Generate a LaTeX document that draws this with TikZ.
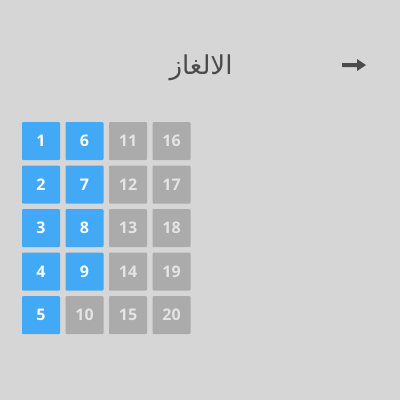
\documentclass[tikz,border=0pt]{standalone}
\usepackage{fontspec}
\setmainfont{Open Sans}
\newfontfamily\arabicfont[Script=Arabic]{DejaVu Sans}
\TeXXeTstate=1
\usepackage{tikz}
\definecolor{paper}{HTML}{D6D6D6}
\definecolor{tileblue}{HTML}{42A9F7}
\definecolor{tilegray}{HTML}{ABABAB}
\definecolor{numgray}{HTML}{E4E4E4}
\definecolor{inkgray}{HTML}{4A4A4A}
\tikzset{
	tile/.style={minimum width=38pt, minimum height=38pt, inner sep=0pt, rounded corners=1pt, font=\fontsize{16}{18}\selectfont\bfseries},
	open/.style={tile, fill=tileblue, text=white},
	locked/.style={tile, fill=tilegray, text=numgray}
}

\begin{document}
\begin{tikzpicture}[x=1pt, y=-1pt]
			%%%%% START %%%%%
			
			\fill[paper] (0, 0) rectangle (400, 400);
			\useasboundingbox (0, 0) rectangle (400, 400);
			
			\node[text=inkgray, font=\fontsize{26}{30}\selectfont] (title) at (201, 67.5) {\arabicfont\beginR الالغاز\endR};
			\fill[inkgray] (342, 63) -- (357, 63) -- (357, 59) -- (366, 65) -- (357, 71) -- (357, 67) -- (342, 67) -- cycle;
			
			\node[open] (t1) at (41, 141) {1};
			\node[open] (t2) at (41, 184.5) {2};
			\node[open] (t3) at (41, 228) {3};
			\node[open] (t4) at (41, 271.5) {4};
			\node[open] (t5) at (41, 315) {5};
			
			\node[open] (t6) at (84.5, 141) {6};
			\node[open] (t7) at (84.5, 184.5) {7};
			\node[open] (t8) at (84.5, 228) {8};
			\node[open] (t9) at (84.5, 271.5) {9};
			\node[locked] (t10) at (84.5, 315) {10};
			
			\node[locked] (t11) at (128, 141) {11};
			\node[locked] (t12) at (128, 184.5) {12};
			\node[locked] (t13) at (128, 228) {13};
			\node[locked] (t14) at (128, 271.5) {14};
			\node[locked] (t15) at (128, 315) {15};
			
			\node[locked] (t16) at (171.5, 141) {16};
			\node[locked] (t17) at (171.5, 184.5) {17};
			\node[locked] (t18) at (171.5, 228) {18};
			\node[locked] (t19) at (171.5, 271.5) {19};
			\node[locked] (t20) at (171.5, 315) {20};
			
			%%%%% END %%%%%
\end{tikzpicture}
\end{document}
